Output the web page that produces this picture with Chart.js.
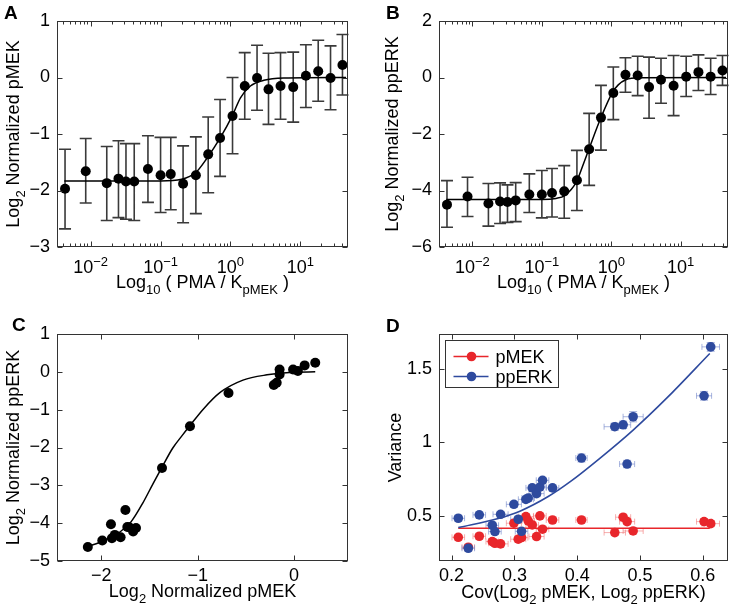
<!DOCTYPE html>
<html><head><meta charset="utf-8">
<script src="https://cdn.jsdelivr.net/npm/chart.js@4.4.1/dist/chart.umd.min.js"></script>
<style>
html,body{margin:0;padding:0;background:#fff}
body{position:relative;width:733px;height:608px;overflow:hidden}
canvas{position:absolute}
</style></head><body>
<canvas id="cA" width="366" height="304" style="left:0;top:0"></canvas>
<canvas id="cB" width="367" height="304" style="left:366px;top:0"></canvas>
<canvas id="cC" width="366" height="304" style="left:0;top:304px"></canvas>
<canvas id="cD" width="367" height="304" style="left:366px;top:304px"></canvas>
<script>
const FONT = '"Liberation Sans", Arial, Helvetica, sans-serif';

// ---------- Panels A and B: dose response ----------
const pma = [0.0043, 0.0085, 0.017, 0.025, 0.032, 0.042, 0.066, 0.10, 0.14, 0.21, 0.32, 0.48, 0.71, 1.07, 1.6, 2.4, 3.5, 5.2, 7.9, 12, 18, 27, 40];
const pmekMean  = [-1.97, -1.66, -1.87, -1.79, -1.84, -1.84, -1.62, -1.73, -1.71, -1.88, -1.73, -1.36, -1.07, -0.68, -0.15, -0.01, -0.21, -0.15, -0.17, 0.03, 0.11, -0.01, 0.22];
const pmekUpper = [-1.27, -1.08, -1.22, -1.12, -1.17, -1.17, -1.03, -1.06, -1.06, -1.21, -1.05, -0.70, -0.39, 0.00, 0.44, 0.57, 0.43, 0.44, 0.45, 0.58, 0.66, 0.56, 0.76];
const pmekLower = [-2.68, -2.22, -2.53, -2.48, -2.51, -2.53, -2.21, -2.39, -2.34, -2.57, -2.41, -2.04, -1.75, -1.35, -0.74, -0.58, -0.83, -0.74, -0.79, -0.53, -0.42, -0.57, -0.31];
const pperkMean  = [-4.50, -4.21, -4.46, -4.39, -4.41, -4.35, -4.14, -4.14, -4.09, -4.03, -3.64, -2.54, -1.42, -0.55, 0.10, 0.07, -0.34, -0.08, -0.29, 0.03, 0.19, 0.03, 0.25];
const pperkUpper = [-3.65, -3.53, -3.75, -3.73, -3.80, -3.72, -3.41, -3.29, -3.22, -3.12, -2.58, -1.27, -0.28, 0.37, 0.70, 0.75, 0.72, 0.68, 0.78, 0.75, 0.80, 0.68, 0.78];
const pperkLower = [-5.30, -4.92, -5.26, -5.17, -5.13, -5.10, -4.78, -4.97, -4.94, -4.98, -4.71, -3.82, -2.57, -1.49, -0.52, -0.64, -1.44, -0.91, -1.35, -0.67, -0.46, -0.60, -0.28];
const fitA_x = [0.0042, 0.032, 0.1, 0.2, 0.32, 0.46, 0.72, 1.06, 1.39, 1.93, 3.0, 5.8, 45];
const fitA_y = [-1.83, -1.83, -1.83, -1.80, -1.68, -1.43, -1.06, -0.68, -0.36, -0.15, -0.05, -0.01, 0];
const fitB_x = [0.0042, 0.1, 0.16, 0.213, 0.313, 0.398, 0.474, 0.713, 1.045, 1.26, 1.62, 2.5, 45];
const fitB_y = [-4.32, -4.32, -4.28, -4.18, -3.70, -3.05, -2.55, -1.41, -0.52, -0.26, -0.08, -0.01, 0];
const decadeTicks = [0.01, 0.1, 1, 10];
const yTicksA = [-3, -2, -1, 0, 1];
const yTicksB = [-6, -4, -2, 0, 2];

// ---------- Panel C: ppERK vs pMEK ----------
const cPMEK  = [-2.14, -1.99, -1.90, -1.89, -1.86, -1.80, -1.75, -1.73, -1.71, -1.67, -1.64, -1.37, -1.08, -0.68, -0.21, -0.18, -0.15, -0.15, -0.01, 0.04, 0.11, 0.22];
const cPPERK = [-4.63, -4.46, -4.03, -4.40, -4.31, -4.37, -3.65, -4.10, -4.11, -4.22, -4.13, -2.54, -1.44, -0.56, -0.35, -0.29, 0.06, -0.07, 0.06, 0.02, 0.17, 0.24];
const fitC_x = [-2.14, -1.98, -1.81, -1.69, -1.57, -1.46, -1.37, -1.26, -1.16, -1.08, -0.94, -0.77, -0.53, -0.28, -0.01, 0.22];
const fitC_y = [-4.62, -4.47, -4.24, -3.96, -3.47, -2.94, -2.52, -2.02, -1.68, -1.42, -0.98, -0.55, -0.22, -0.08, -0.01, 0.0];
const xTicksC = [-2, -1, 0];
const yTicksC = [-5, -4, -3, -2, -1, 0, 1];

// ---------- Panel D: variance vs covariance ----------
const covX = [0.2107, 0.2266, 0.2441, 0.2648, 0.2690, 0.2780, 0.2992, 0.3061, 0.3114, 0.3183, 0.3220, 0.3284, 0.3353, 0.3406, 0.3448, 0.3607, 0.4068, 0.4598, 0.4731, 0.4794, 0.4890, 0.6019, 0.6125];
const covErr = [0.010, 0.010, 0.010, 0.010, 0.010, 0.012, 0.012, 0.012, 0.010, 0.012, 0.010, 0.010, 0.012, 0.010, 0.010, 0.010, 0.009, 0.017, 0.012, 0.012, 0.016, 0.012, 0.014];
const varPMEK  = [0.352, 0.284, 0.359, 0.323, 0.311, 0.307, 0.448, 0.339, 0.350, 0.493, 0.464, 0.436, 0.357, 0.498, 0.407, 0.470, 0.470, 0.384, 0.489, 0.459, 0.395, 0.459, 0.445];
const varPMEKErr = [0.02, 0.02, 0.02, 0.02, 0.02, 0.02, 0.02, 0.02, 0.02, 0.02, 0.02, 0.02, 0.02, 0.02, 0.02, 0.02, 0.02, 0.02, 0.02, 0.02, 0.02, 0.02, 0.02];
const varPPERK = [0.482, 0.277, 0.505, 0.434, 0.391, 0.509, 0.577, 0.475, 0.393, 0.611, 0.620, 0.689, 0.650, 0.695, 0.741, 0.689, 0.893, 1.107, 1.120, 0.852, 1.175, 1.318, 1.652];
const varPPERKErr = [0.02, 0.02, 0.02, 0.02, 0.02, 0.02, 0.02, 0.02, 0.02, 0.02, 0.02, 0.02, 0.02, 0.02, 0.02, 0.02, 0.027, 0.025, 0.025, 0.025, 0.035, 0.03, 0.03];
const fitD_x = [0.2107, 0.2743, 0.3088, 0.3538, 0.3900, 0.4360, 0.4890, 0.5420, 0.6110];
const fitDblue_y = [0.418, 0.480, 0.530, 0.630, 0.735, 0.891, 1.084, 1.300, 1.607];
const fitDred_x = [0.2107, 0.6110];
const fitDred_y = [0.414, 0.414];
const xTicksD = [0.2, 0.3, 0.4, 0.5, 0.6];
const yTicksD = [0.5, 1, 1.5];
const legendLabels = ['pMEK', 'ppERK'];

// ---------- text ----------
const panelLetters = ['A', 'B', 'C', 'D'];
const xTitleAB = [['Log', 0], ['10', 1], [' ( PMA / K', 0], ['pMEK', 1], [' )', 0]];
const yTitleA = [['Log', 0], ['2', 1], [' Normalized pMEK', 0]];
const yTitleB = [['Log', 0], ['2', 1], [' Normalized ppERK', 0]];
const xTitleC = [['Log', 0], ['2', 1], [' Normalized pMEK', 0]];
const yTitleC = [['Log', 0], ['2', 1], [' Normalized ppERK', 0]];
const xTitleD = [['Cov(Log', 0], ['2', 1], [' pMEK, Log', 0], ['2', 1], [' ppERK)', 0]];
const yTitleD = [['Variance', 0]];

const RED = '#e8262b', BLUE = '#2e4a9e';
const RED_L = 'rgba(240,110,110,0.55)', BLUE_L = 'rgba(110,130,200,0.6)';
const TICK_SIZE = 18;

function fmt(v) { const r = Math.round(v * 100) / 100; return (r < 0 ? '\u2212' : '') + Math.abs(r); }
function pts(xs, ys) { return xs.map((x, i) => ({ x: x, y: ys[i] })); }

function richWidth(ctx, parts, big, small) {
  let w = 0;
  parts.forEach(p => { ctx.font = (p[1] ? small : big) + 'px ' + FONT; w += ctx.measureText(p[0]).width; });
  return w;
}
function richDraw(ctx, parts, x, y, big, small, dy) {
  const w = richWidth(ctx, parts, big, small);
  let cx = x - w / 2;
  parts.forEach(p => {
    ctx.font = (p[1] ? small : big) + 'px ' + FONT;
    ctx.fillText(p[0], cx, y + (p[1] ? dy : 0));
    cx += ctx.measureText(p[0]).width;
  });
}

function logMinor(scale) {
  const out = [];
  for (let e = -4; e <= 3; e++) for (let k = 1; k <= 9; k++) {
    const v = k * Math.pow(10, e);
    if (v >= scale.min && v <= scale.max) out.push({ v: v, len: k === 1 ? 5 : 3 });
  }
  return out;
}

function panelPlugin(cfg) {
  return {
    id: 'panel' + cfg.letter,
    beforeDatasetsDraw(chart) { if (cfg.errors) cfg.errors(chart); },
    afterDraw(chart) {
      const ctx = chart.ctx, a = chart.chartArea, xs = chart.scales.x, ys = chart.scales.y;
      ctx.save();
      const L = Math.round(a.left) + 0.5, T = Math.round(a.top) + 0.5, R = Math.round(a.right) - 0.5, B = Math.round(a.bottom) - 0.5;
      ctx.strokeStyle = '#333'; ctx.lineWidth = 1;
      ctx.beginPath();
      const xt = cfg.log ? logMinor(xs) : xs.ticks.map(t => ({ v: t.value, len: 5 }));
      xt.forEach(t => {
        const p = Math.round(xs.getPixelForValue(t.v)) + 0.5;
        if (p < L - 0.5 || p > R + 0.5) return;
        ctx.moveTo(p, B); ctx.lineTo(p, B - t.len); ctx.moveTo(p, T); ctx.lineTo(p, T + t.len);
      });
      ys.ticks.forEach(t => {
        const p = Math.round(ys.getPixelForValue(t.value)) + 0.5;
        ctx.moveTo(L, p); ctx.lineTo(L + 5, p); ctx.moveTo(R, p); ctx.lineTo(R - 5, p);
      });
      ctx.stroke();
      ctx.strokeRect(L, T, R - L, B - T);
      ctx.fillStyle = '#000'; ctx.textBaseline = 'alphabetic'; ctx.textAlign = 'left';
      if (cfg.log) {
        xs.ticks.forEach(t => {
          const e = Math.round(Math.log10(t.value));
          const parts = [['10', 0], [(e < 0 ? '\u2212' : '') + Math.abs(e), 1]];
          richDraw(ctx, parts, xs.getPixelForValue(t.value), cfg.xLabelBase, TICK_SIZE, 13, -7);
        });
      }
      richDraw(ctx, cfg.xTitle, (a.left + a.right) / 2, cfg.xTitleBase, 18, 13, 6);
      ctx.save();
      ctx.translate(cfg.yTitleX, (a.top + a.bottom) / 2);
      ctx.rotate(-Math.PI / 2);
      richDraw(ctx, cfg.yTitle, 0, 0, 18, 13, 6);
      ctx.restore();
      ctx.font = 'bold 19px ' + FONT;
      ctx.fillText(cfg.letter, cfg.letterX, cfg.letterY);
      if (cfg.legend) cfg.legend(ctx, a);
      ctx.restore();
    }
  };
}

function vErrBars(chart, xv, lo, hi, color) {
  const ctx = chart.ctx, xs = chart.scales.x, ys = chart.scales.y;
  ctx.save(); ctx.strokeStyle = color; ctx.lineWidth = 1.6; ctx.beginPath();
  xv.forEach((x, i) => {
    const px = xs.getPixelForValue(x), p1 = ys.getPixelForValue(lo[i]), p2 = ys.getPixelForValue(hi[i]);
    ctx.moveTo(px, p1); ctx.lineTo(px, p2);
    ctx.moveTo(px - 6, p1); ctx.lineTo(px + 6, p1);
    ctx.moveTo(px - 6, p2); ctx.lineTo(px + 6, p2);
  });
  ctx.stroke(); ctx.restore();
}
function xyErrBars(chart, xv, yv, xe, ye, color) {
  const ctx = chart.ctx, xs = chart.scales.x, ys = chart.scales.y;
  ctx.save(); ctx.strokeStyle = color; ctx.lineWidth = 1; ctx.beginPath();
  xv.forEach((x, i) => {
    const px = xs.getPixelForValue(x), py = ys.getPixelForValue(yv[i]);
    const x1 = xs.getPixelForValue(x - xe[i]), x2 = xs.getPixelForValue(x + xe[i]);
    const y1 = ys.getPixelForValue(yv[i] - ye[i]), y2 = ys.getPixelForValue(yv[i] + ye[i]);
    ctx.moveTo(x1, py); ctx.lineTo(x2, py);
    ctx.moveTo(x1, py - 3); ctx.lineTo(x1, py + 3);
    ctx.moveTo(x2, py - 3); ctx.lineTo(x2, py + 3);
    ctx.moveTo(px, y1); ctx.lineTo(px, y2);
    ctx.moveTo(px - 4, y1); ctx.lineTo(px + 4, y1);
    ctx.moveTo(px - 4, y2); ctx.lineTo(px + 4, y2);
  });
  ctx.stroke(); ctx.restore();
}

function yScale(min, max, ticks, fmtFn) {
  return {
    type: 'linear', min: min, max: max,
    afterBuildTicks(s) { s.ticks = ticks.map(v => ({ value: v })); },
    ticks: { padding: 7, color: '#000', font: { family: FONT, size: TICK_SIZE }, callback: fmtFn || fmt },
    grid: { display: false, drawTicks: false }, border: { display: false }
  };
}
function xLinScale(min, max, ticks, fmtFn) {
  return {
    type: 'linear', min: min, max: max,
    afterBuildTicks(s) { s.ticks = ticks.map(v => ({ value: v })); },
    ticks: { padding: 4, color: '#000', font: { family: FONT, size: TICK_SIZE }, maxRotation: 0, callback: fmtFn || fmt },
    grid: { display: false, drawTicks: false }, border: { display: false }
  };
}
function xLogScale() {
  return {
    type: 'logarithmic', min: 0.0033, max: 48,
    afterBuildTicks(s) { s.ticks = decadeTicks.map(v => ({ value: v })); },
    ticks: { display: false },
    grid: { display: false, drawTicks: false }, border: { display: false }
  };
}

function makeChart(id, W, H, plot, xs, ys, datasets, plugin) {
  xs.afterFit = function (s) { s.height = H - plot.bottom; };
  ys.afterFit = function (s) { s.width = plot.left; };
  return new Chart(document.getElementById(id), {
    type: 'scatter',
    data: { datasets: datasets },
    options: {
      responsive: false, animation: false, devicePixelRatio: 1, events: [],
      layout: { padding: { left: 0, top: plot.top, right: W - plot.right, bottom: 0 } },
      plugins: { legend: { display: false }, tooltip: { enabled: false } },
      scales: { x: xs, y: ys }
    },
    plugins: [plugin]
  });
}

function dots(data, color, r, label) {
  return { label: label, data: data, showLine: false, pointRadius: r, pointHoverRadius: r,
    pointBackgroundColor: color, pointBorderColor: color, pointBorderWidth: 0 };
}
function curve(data, color, w, label) {
  return { label: label, data: data, showLine: true, pointRadius: 0, borderColor: color, borderWidth: w,
    cubicInterpolationMode: 'monotone', fill: false };
}

// Panel A
makeChart('cA', 366, 304, { left: 57, top: 21, right: 348, bottom: 247 },
  xLogScale(), yScale(-3, 1, yTicksA),
  [dots(pts(pma, pmekMean), '#000', 5, 'pMEK'), curve(pts(fitA_x, fitA_y), '#000', 1.5, 'fit')],
  panelPlugin({ letter: panelLetters[0], letterX: 4, letterY: 19, log: true, xLabelBase: 273,
    xTitle: xTitleAB, xTitleBase: 288, yTitle: yTitleA, yTitleX: 19,
    errors: ch => vErrBars(ch, pma, pmekLower, pmekUpper, '#3a3a3a') }));

// Panel B
makeChart('cB', 367, 304, { left: 73, top: 21, right: 362, bottom: 247 },
  xLogScale(), yScale(-6, 2, yTicksB),
  [dots(pts(pma, pperkMean), '#000', 5, 'ppERK'), curve(pts(fitB_x, fitB_y), '#000', 1.5, 'fit')],
  panelPlugin({ letter: panelLetters[1], letterX: 20, letterY: 19, log: true, xLabelBase: 273,
    xTitle: xTitleAB, xTitleBase: 288, yTitle: yTitleB, yTitleX: 32,
    errors: ch => vErrBars(ch, pma, pperkLower, pperkUpper, '#3a3a3a') }));

// Panel C
makeChart('cC', 366, 304, { left: 57, top: 30, right: 348, bottom: 257 },
  xLinScale(-2.46, 0.56, xTicksC), yScale(-5, 1, yTicksC),
  [dots(pts(cPMEK, cPPERK), '#000', 5, 'data'), curve(pts(fitC_x, fitC_y), '#000', 1.5, 'fit')],
  panelPlugin({ letter: panelLetters[2], letterX: 12, letterY: 27, log: false,
    xTitle: xTitleC, xTitleBase: 293, yTitle: yTitleC, yTitleX: 19 }));

// Panel D
const fmtD = v => String(Math.round(v * 10) / 10);
makeChart('cD', 367, 304, { left: 73, top: 30, right: 362, bottom: 257 },
  xLinScale(0.18, 0.64, xTicksD, fmtD), yScale(0.19, 1.74, yTicksD, fmtD),
  [dots(pts(covX, varPPERK), BLUE, 4.8, legendLabels[1]), dots(pts(covX, varPMEK), RED, 4.8, legendLabels[0]),
   curve(pts(fitD_x, fitDblue_y), BLUE, 1.6, 'ppERK fit'), curve(pts(fitDred_x, fitDred_y), RED, 1.6, 'pMEK fit')],
  panelPlugin({ letter: panelLetters[3], letterX: 20, letterY: 28, log: false,
    xTitle: xTitleD, xTitleBase: 294, yTitle: yTitleD, yTitleX: 35,
    errors: ch => {
      xyErrBars(ch, covX, varPMEK, covErr, varPMEKErr, RED_L);
      xyErrBars(ch, covX, varPPERK, covErr, varPPERKErr, BLUE_L);
    },
    legend: (ctx, a) => {
      const bx = Math.round(a.left) + 6.5, by = Math.round(a.top) + 6.5, bw = 113, bh = 47;
      ctx.fillStyle = '#fff'; ctx.fillRect(bx, by, bw, bh);
      ctx.strokeStyle = '#333'; ctx.lineWidth = 1; ctx.strokeRect(bx, by, bw, bh);
      [[legendLabels[0], RED], [legendLabels[1], BLUE]].forEach((e, i) => {
        const cy = by + 16 + i * 20;
        ctx.strokeStyle = e[1]; ctx.lineWidth = 1.6;
        ctx.beginPath(); ctx.moveTo(bx + 8, cy); ctx.lineTo(bx + 43, cy); ctx.stroke();
        ctx.fillStyle = e[1]; ctx.beginPath(); ctx.arc(bx + 26, cy, 4.8, 0, Math.PI * 2); ctx.fill();
        ctx.fillStyle = '#000'; ctx.font = '18px ' + FONT; ctx.textAlign = 'left';
        ctx.fillText(e[0], bx + 50, cy + 6.5);
      });
    } }));
</script>
</body></html>
